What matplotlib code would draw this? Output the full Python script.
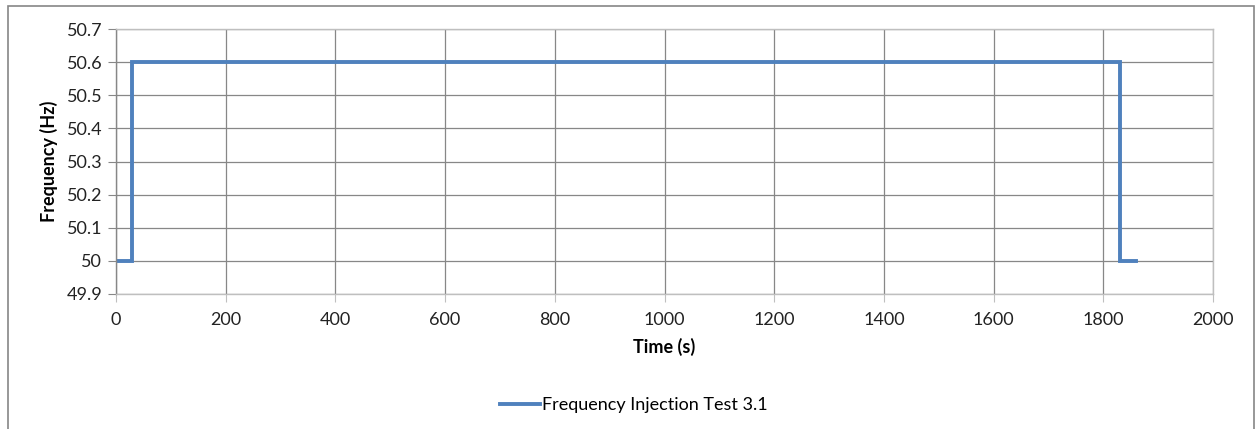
import matplotlib
matplotlib.use("Agg")
import matplotlib.pyplot as plt
from matplotlib.patches import Rectangle

# Step profile of the injected frequency
t = [0, 30, 30, 1830, 1830, 1860]
f = [50.0, 50.0, 50.6, 50.6, 50.0, 50.0]

x_ticks = [0, 200, 400, 600, 800, 1000, 1200, 1400, 1600, 1800, 2000]
y_ticks = [49.9, 50.0, 50.1, 50.2, 50.3, 50.4, 50.5, 50.6, 50.7]
y_labels = ["49.9", "50", "50.1", "50.2", "50.3", "50.4", "50.5", "50.6", "50.7"]

plt.rcParams['font.family'] = ['Lato', 'DejaVu Sans']

fig = plt.figure(figsize=(12.55, 4.29), dpi=100)
# chart frame like the Excel chart area
fig.patches.append(Rectangle((8 / 1255, -0.05), 1246 / 1255, 1.05 - 6 / 429,
                             transform=fig.transFigure, fill=False,
                             edgecolor="#868686", linewidth=1.2))

ax = fig.add_axes([116 / 1255, 1 - 294 / 429, 1097 / 1255, 265 / 429])
line, = ax.plot(t, f, color="#4F81BD", linewidth=2.8, solid_joinstyle="miter",
                label="Frequency Injection Test 3.1")

ax.set_xlim(0, 2000)
ax.set_ylim(49.9, 50.7)
ax.set_xticks(x_ticks)
ax.set_yticks(y_ticks)
ax.set_yticklabels(y_labels)
ax.grid(True, color="#878787", linewidth=0.9)
ax.set_axisbelow(True)
for s in ax.spines.values():
    s.set_color("#BFBFBF")
    s.set_linewidth(1.0)
ax.spines["left"].set_color("#878787")
ax.tick_params(axis="x", length=6, color="#BFBFBF", pad=7, labelsize=13, labelcolor="#222222")
ax.tick_params(axis="y", length=6, color="#878787", pad=4, labelsize=13, labelcolor="#222222")

ax.set_xlabel("Time (s)", fontsize=13, fontweight="bold", labelpad=7)
ax.set_ylabel("Frequency (Hz)", fontsize=13, fontweight="bold", labelpad=6)

fig.legend(handles=[line], loc="center", bbox_to_anchor=(634 / 1255, 1 - 405 / 429),
           frameon=False, fontsize=13, handlelength=2.2, handletextpad=0.15)

fig.savefig("out.png", dpi=100)
